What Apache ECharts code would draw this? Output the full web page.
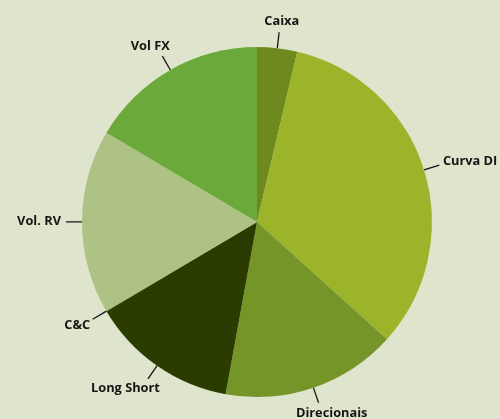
<!DOCTYPE html>
<html>
<head>
<meta charset="utf-8">
<script src="https://cdn.jsdelivr.net/npm/echarts@6/dist/echarts.min.js"></script>
<style>
  html, body { margin: 0; padding: 0; background: #dfe4cc; }
  #main { width: 500px; height: 419px; }
</style>
</head>
<body>
<div id="main"></div>
<script>
// slices, clockwise from 12 o'clock
var names = ['Caixa', 'Curva DI', 'Direcionais', 'Long Short', 'C&C', 'Vol. RV', 'Vol FX'];
var values = [3.7, 33.0, 16.2, 13.6, 0.05, 17.0, 16.5];
var colors = ['#6e8a1e', '#9bb42a', '#769528', '#2b3c00', '#2b3c00', '#afc286', '#6aa93a'];

var myChart = echarts.init(document.getElementById('main'));

var pieData = [];
for (let i = 0; i < names.length; i++) {
    pieData.push({ name: names[i], value: values[i], itemStyle: { color: colors[i] } });
}

option = {
    backgroundColor: '#dfe4cc',
    animation: false,
    series: [
        {
            type: 'pie',
            center: [257, 222],
            radius: 175,
            startAngle: 90,
            clockwise: true,
            avoidLabelOverlap: false,
            data: pieData,
            label: {
                show: true,
                position: 'outside',
                color: '#151515',
                fontFamily: 'Open Sans',
                fontWeight: 'bold',
                fontSize: 12.8
            },
            labelLine: {
                show: true,
                length: 16,
                length2: 0,
                smooth: false,
                lineStyle: { color: '#151515', width: 1.3 }
            },
            // put each label just past the end of its radial leader line
            labelLayout: function (params) {
                var pts = params.labelLinePoints;
                if (!pts) return {};
                var p0 = pts[0], p1 = pts[1];
                var dx = p1[0] - p0[0], dy = p1[1] - p0[1];
                var len = Math.sqrt(dx * dx + dy * dy) || 1;
                dx /= len; dy /= len;
                var hw = params.labelRect.width / 2, hh = params.labelRect.height / 2;
                var gap = 5;
                return {
                    x: p1[0] + dx * (hw + gap),
                    y: p1[1] + dy * (hh + gap),
                    align: 'center',
                    verticalAlign: 'middle',
                    labelLinePoints: [p0, p1, p1]
                };
            },
            emphasis: { disabled: true }
        }
    ]
};

myChart.setOption(option);
</script>
</body>
</html>
